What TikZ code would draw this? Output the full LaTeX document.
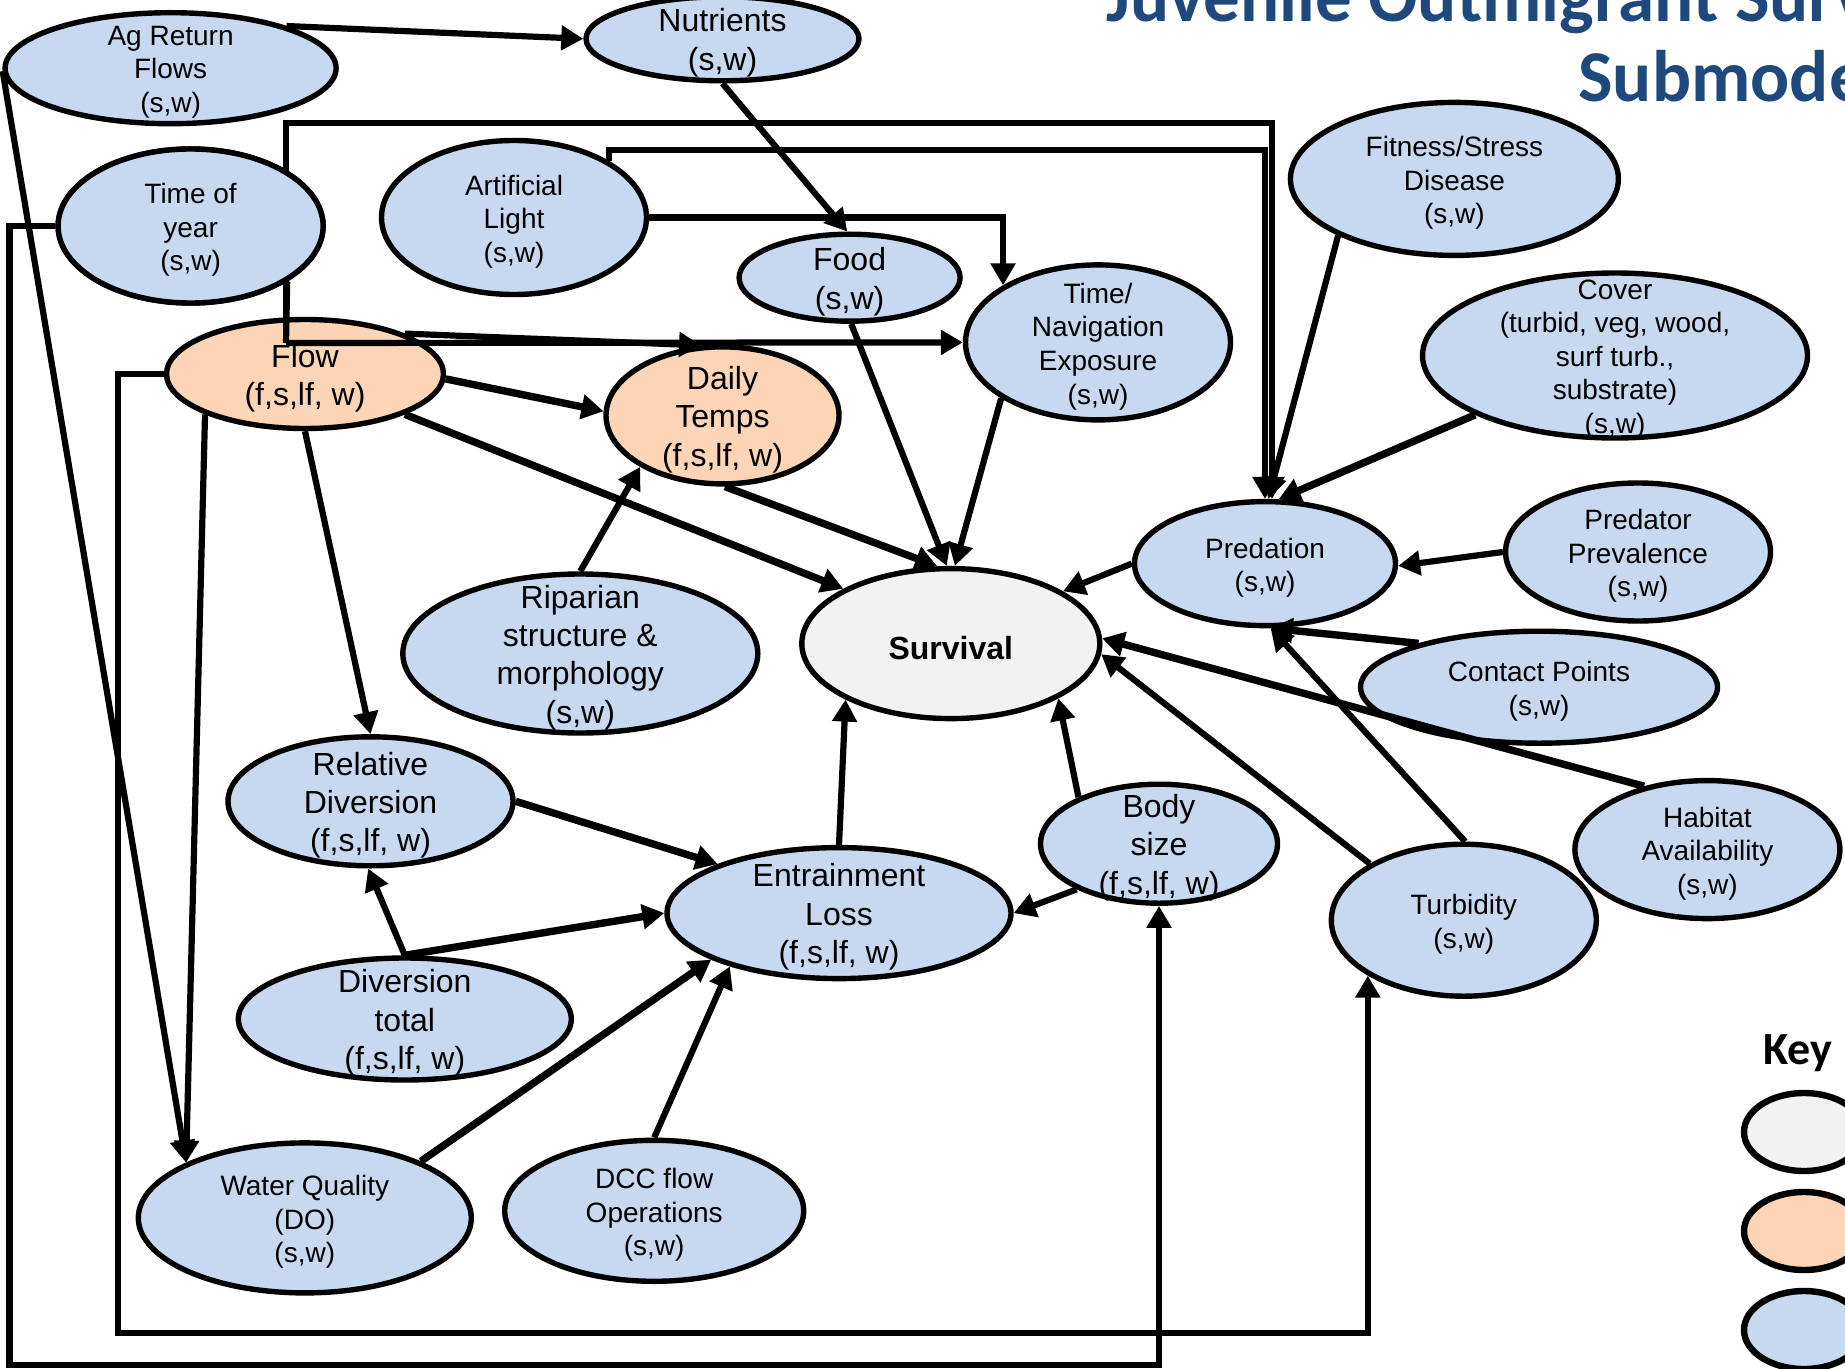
\documentclass[tikz,border=0pt]{standalone}
\usepackage{fontspec}
\setmainfont{Liberation Sans}
\newfontfamily\headfont{Carlito}
\usetikzlibrary{shapes.geometric, arrows.meta}

\definecolor{nodeblue}{HTML}{C6D9F1}
\definecolor{nodeorange}{HTML}{FBD5B5}
\definecolor{nodegray}{HTML}{F2F2F2}
\definecolor{titleblue}{HTML}{1F497D}

\tikzset{
  oval/.style={ellipse, draw=black, line width=2.7pt, inner sep=0pt},
  inputvar/.style={fill=nodeblue},
  drivervar/.style={fill=nodeorange},
  outvar/.style={fill=nodegray},
  lbl/.style={align=center, inner sep=0pt, yshift=-2pt, font=\fontsize{14}{16.8}\selectfont},
  lblbig/.style={align=center, inner sep=0pt, yshift=-2pt, font=\fontsize{16}{19.2}\selectfont},
  link/.style={line width=3.1pt, -{Triangle[length=11pt,width=12pt]}},
  heavy/.style={link, line width=3.7pt},
  headtext/.style={anchor=base west, inner sep=0pt, text=titleblue,
    font=\headfont\bfseries\fontsize{36.5}{40}\selectfont},
  keyoval/.style={oval, line width=3.2pt, minimum width=60pt, minimum height=39pt},
}

% #1 name, #2 x, #3 y, #4 half width, #5 half height, #6 fill style (units: px, 1px = 0.5pt)
\newcommand{\ovalnode}[6]{%
  \node[oval, #6, minimum width=#4pt, minimum height=#5pt] (#1) at (#2,#3) {};}

\begin{document}
\begin{tikzpicture}[x=0.5pt, y=-0.5pt]
\useasboundingbox (0,0) rectangle (1845,1369);
\begin{scope}
\clip (0,0) rectangle (1845,1369);

% title
\node[headtext] (title1) at (1106,22) {Juvenile Outmigrant Survival};
\node[headtext] (title2) at (1578,102) {Submodel};

% variables
\ovalnode{AgRet}{170.6}{68.2}{165.5}{55.5}{inputvar}
\ovalnode{Nutr}{722.5}{38.8}{136.5}{42}{inputvar}
\ovalnode{TOY}{190.6}{226}{132.5}{77}{inputvar}
\ovalnode{ArtL}{514}{217.5}{132.5}{77}{inputvar}
\ovalnode{Food}{849.6}{277.7}{110.5}{43.5}{inputvar}
\ovalnode{TimeNav}{1098}{342.4}{132.5}{77.5}{inputvar}
\ovalnode{Fit}{1454.4}{178.9}{164}{76.5}{inputvar}
\ovalnode{Cover}{1615}{355.5}{192.5}{82.5}{inputvar}
\ovalnode{Flow}{305}{374}{138.5}{54.5}{drivervar}
\ovalnode{Daily}{722.5}{415.4}{116.5}{68.5}{drivervar}
\ovalnode{Pred}{1265}{563.6}{130.5}{62}{inputvar}
\ovalnode{PredPrev}{1638}{552}{132.5}{69}{inputvar}
\ovalnode{Surv}{950.8}{643.6}{149}{75}{outvar}
\ovalnode{Rip}{580.3}{653.5}{177.5}{79.5}{inputvar}
\ovalnode{Contact}{1539}{687.2}{178.5}{56}{inputvar}
\ovalnode{RelDiv}{370.5}{801.3}{142.5}{64.5}{inputvar}
\ovalnode{Hab}{1707.4}{849.6}{132.5}{69}{inputvar}
\ovalnode{Body}{1159}{843.7}{118.5}{59.5}{inputvar}
\ovalnode{Entr}{839}{913.1}{172}{65.5}{inputvar}
\ovalnode{Turb}{1463.8}{920.2}{132.5}{76}{inputvar}
\ovalnode{DivTot}{404.8}{1019}{166.5}{61}{inputvar}
\ovalnode{WQ}{304.8}{1217.9}{166.5}{75}{inputvar}
\ovalnode{DCC}{654.2}{1210.8}{149.5}{70.5}{inputvar}

\node[lbl] (AgRet-t) at (AgRet) {Ag Return\\Flows\\(s,w)};
\node[lblbig] (Nutr-t) at (Nutr) {Nutrients\\(s,w)};
\node[lbl] (ArtL-t) at (ArtL) {Artificial\\Light\\(s,w)};
\node[lblbig] (Food-t) at (Food) {Food\\(s,w)};
\node[lbl] (TimeNav-t) at (TimeNav) {Time/\\Navigation\\Exposure\\(s,w)};
\node[lbl] (Fit-t) at (Fit) {Fitness/Stress\\Disease\\(s,w)};
\node[lbl] (Cover-t) at (Cover) {Cover\\(turbid, veg, wood,\\surf turb.,\\substrate)\\(s,w)};
\node[lblbig] (Flow-t) at (Flow) {Flow\\(f,s,lf, w)};
\node[lblbig] (Daily-t) at (Daily) {Daily\\Temps\\(f,s,lf, w)};
\node[lbl] (Pred-t) at (Pred) {Predation\\(s,w)};
\node[lbl] (PredPrev-t) at (PredPrev) {Predator\\Prevalence\\(s,w)};
\node[lblbig, font=\bfseries\fontsize{16}{19.2}\selectfont] (Surv-t) at (Surv) {Survival};
\node[lblbig] (Rip-t) at (Rip) {Riparian\\structure \&\\morphology\\(s,w)};
\node[lbl] (Contact-t) at (Contact) {Contact Points\\(s,w)};
\node[lblbig] (RelDiv-t) at (RelDiv) {Relative\\Diversion\\(f,s,lf, w)};
\node[lbl] (Hab-t) at (Hab) {Habitat\\Availability\\(s,w)};
\node[lblbig] (Body-t) at (Body) {Body\\size\\(f,s,lf, w)};
\node[lblbig] (Entr-t) at (Entr) {Entrainment\\Loss\\(f,s,lf, w)};
\node[lbl] (Turb-t) at (Turb) {Turbidity\\(s,w)};
\node[lblbig] (DivTot-t) at (DivTot) {Diversion\\total\\(f,s,lf, w)};
\node[lbl] (WQ-t) at (WQ) {Water Quality\\(DO)\\(s,w)};
\node[lbl] (DCC-t) at (DCC) {DCC flow\\Operations\\(s,w)};

% key
\node[font=\headfont\bfseries\fontsize{23}{27}\selectfont] (keyttl) at (1798,1053) {Key};
\node[keyoval, outvar] (key1) at (1804,1132) {};
\node[keyoval, drivervar] (key2) at (1804,1231) {};
\node[keyoval, inputvar] (key3) at (1804,1330) {};

% bend points of the routed links
\coordinate (tc) at (286,343);
\coordinate (tp) at (1272,123);
\coordinate (ap) at (1265,150);
\coordinate (fb) at (118,1333);
\coordinate (tb) at (9.4,1365);

% links
\draw[link] (AgRet.20) -- (Nutr.180);
\draw[link] (Nutr.270) -- (Food.93);
\draw[link] (AgRet.181) -- (WQ.155);
\draw[link] (Flow.202) -- (WQ.155);
\draw[link] (Flow.22) -- (Daily.107);
\draw[heavy] (Flow.-2) -- (Daily.178);
\draw[heavy] (Flow.338) -- (Surv.153);
\draw[link] (Flow.270) -- (RelDiv.90);
\draw[link] (Flow.180) -| (fb) -| (Turb.210);
\draw[link] (TOY.180) -| (tb) -| (Body.270);
\draw[line width=3.1pt] (TOY.330) -- (tc);
\draw[link] (tc) -- (TimeNav.180);
\draw[link] (tc) |- (tp) -- (tp |- Pred.north);
\draw[link] (ArtL.0) -| (TimeNav.149);
\draw[link] (ArtL.31) |- (ap) -- (ap |- Pred.north);
\draw[link] (Food.272) -- (Surv.93);
\draw[link] (TimeNav.210) -- (Surv.87);
\draw[heavy] (Daily.272) -- (Surv.100);
\draw[link] (Rip.90) -- (Daily.212);
\draw[link] (Fit.206) -- (Pred.87);
\draw[heavy] (Cover.203) -- (Pred.78);
\draw[link] (PredPrev.180) -- (Pred.-1);
\draw[heavy] (Contact.160) -- (Pred.275);
\draw[link] (Turb.89) -- (Pred.275);
\draw[link] (Pred.180) -- (Surv.25);
\draw[heavy] (Hab.135) -- (Surv.2);
\draw[link] (Turb.149) -- (Surv.356);
\draw[link] (Body.150) -- (Surv.333);
\draw[link] (Body.209) -- (Entr.0);
\draw[link] (Entr.90) -- (Surv.208);
\draw[heavy] (RelDiv.0) -- (Entr.158);
\draw[link] (DivTot.90) -- (RelDiv.268);
\draw[heavy] (DivTot.90) -- (Entr.180);
\draw[heavy] (WQ.26) -- (Entr.200);
\draw[link] (DCC.90) -- (Entr.206);

% Time of year is laid again over the vertical run of its own link
\ovalnode{TOYtop}{190.6}{226}{132.5}{77}{inputvar}
\node[lbl] (TOY-t) at (TOYtop) {Time of\\year\\(s,w)};
\end{scope}
\end{tikzpicture}
\end{document}
